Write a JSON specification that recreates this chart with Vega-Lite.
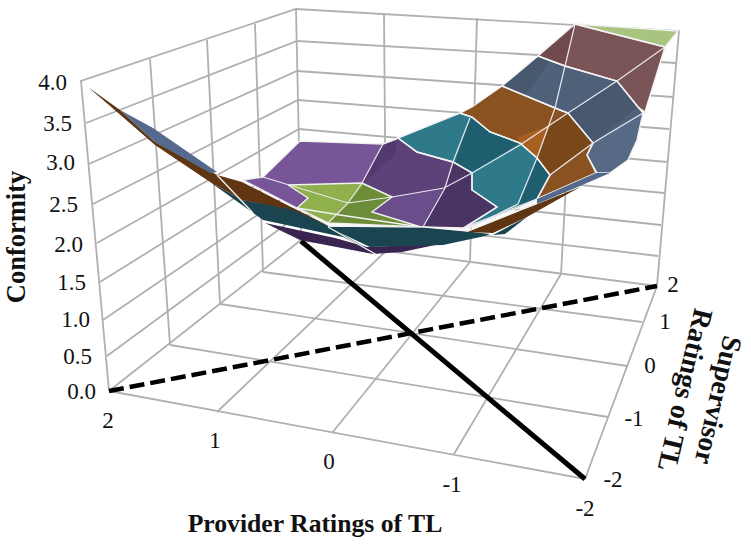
{"$schema":"https://vega.github.io/schema/vega-lite/v6.json","width":751,"height":547,"padding":0,"autosize":{"type":"fit","contains":"padding"},"background":"white","config":{"view":{"stroke":null}},
"datasets":{
"grid":[
{"g":"f1","v":1,"x":109,"y":391},{"g":"f1","v":2,"x":585,"y":479},{"g":"f1","v":3,"x":657,"y":286},{"g":"f1","v":4,"x":301,"y":240},{"g":"f1","v":5,"x":109,"y":391},
{"g":"p1","v":1,"x":217,"y":412},{"g":"p1","v":2,"x":386,"y":251},{"g":"p2","v":1,"x":332,"y":433},{"g":"p2","v":2,"x":470,"y":262},{"g":"p3","v":1,"x":454,"y":454},{"g":"p3","v":2,"x":561,"y":274},
{"g":"s1","v":1,"x":170,"y":345},{"g":"s1","v":2,"x":608,"y":417},{"g":"s2","v":1,"x":220,"y":304},{"g":"s2","v":2,"x":627,"y":366},{"g":"s3","v":1,"x":263,"y":272},{"g":"s3","v":2,"x":642,"y":322},
{"g":"top","v":1,"x":109,"y":391},{"g":"top","v":2,"x":81,"y":81},{"g":"top","v":3,"x":296,"y":9},{"g":"top","v":4,"x":679,"y":31},{"g":"top","v":5,"x":657,"y":286},
{"g":"b0","v":1,"x":296,"y":9},{"g":"b0","v":2,"x":301,"y":240},
{"g":"lv1","v":1,"x":150,"y":59},{"g":"lv1","v":2,"x":170,"y":345},{"g":"lv2","v":1,"x":207,"y":40},{"g":"lv2","v":2,"x":220,"y":304},{"g":"lv3","v":1,"x":255,"y":24},{"g":"lv3","v":2,"x":263,"y":272},
{"g":"rv1","v":1,"x":384,"y":14},{"g":"rv1","v":2,"x":386,"y":251},{"g":"rv2","v":1,"x":477,"y":18},{"g":"rv2","v":2,"x":470,"y":262},{"g":"rv3","v":1,"x":575,"y":24},{"g":"rv3","v":2,"x":561,"y":274},
{"g":"h35","v":1,"x":86,"y":123},{"g":"h35","v":2,"x":297,"y":41},{"g":"h35","v":3,"x":676,"y":63},
{"g":"h30","v":1,"x":89,"y":164},{"g":"h30","v":2,"x":297,"y":71},{"g":"h30","v":3,"x":673,"y":97},
{"g":"h25","v":1,"x":93,"y":204},{"g":"h25","v":2,"x":298,"y":100},{"g":"h25","v":3,"x":669,"y":129},
{"g":"h20","v":1,"x":97,"y":243},{"g":"h20","v":2,"x":299,"y":129},{"g":"h20","v":3,"x":667,"y":162},
{"g":"h15","v":1,"x":100,"y":282},{"g":"h15","v":2,"x":299,"y":158},{"g":"h15","v":3,"x":664,"y":193},
{"g":"h10","v":1,"x":103,"y":320},{"g":"h10","v":2,"x":300,"y":186},{"g":"h10","v":3,"x":661,"y":225},
{"g":"h05","v":1,"x":107,"y":356},{"g":"h05","v":2,"x":300,"y":214},{"g":"h05","v":3,"x":658,"y":256}],
"base":[
{"p":"purple","band":"purple","v":1,"x":263,"y":177},{"p":"purple","band":"purple","v":2,"x":300,"y":141},{"p":"purple","band":"purple","v":3,"x":383,"y":144},{"p":"purple","band":"purple","v":4,"x":398,"y":138},{"p":"purple","band":"purple","v":5,"x":417,"y":152},{"p":"purple","band":"purple","v":6,"x":453,"y":162},{"p":"purple","band":"purple","v":7,"x":472,"y":173},{"p":"purple","band":"purple","v":8,"x":472,"y":190},{"p":"purple","band":"purple","v":9,"x":497,"y":207},{"p":"purple","band":"purple","v":10,"x":463,"y":228},{"p":"purple","band":"purple","v":11,"x":421,"y":227},{"p":"purple","band":"purple","v":12,"x":340,"y":215},{"p":"purple","band":"purple","v":13,"x":297,"y":208},{"p":"purple","band":"purple","v":14,"x":243,"y":180},{"p":"purple","band":"purple","v":15,"x":263,"y":177},
{"p":"green","band":"green","v":1,"x":288,"y":185},{"p":"green","band":"green","v":2,"x":362,"y":183},{"p":"green","band":"green","v":3,"x":392,"y":197},{"p":"green","band":"green","v":4,"x":372,"y":212},{"p":"green","band":"green","v":5,"x":421,"y":227},{"p":"green","band":"green","v":6,"x":328,"y":223},{"p":"green","band":"green","v":7,"x":297,"y":208},{"p":"green","band":"green","v":8,"x":308,"y":198},{"p":"green","band":"green","v":9,"x":288,"y":185},
{"p":"teal","band":"teal","v":1,"x":460,"y":113},{"p":"teal","band":"teal","v":2,"x":472,"y":117},{"p":"teal","band":"teal","v":3,"x":490,"y":132},{"p":"teal","band":"teal","v":4,"x":520,"y":143},{"p":"teal","band":"teal","v":5,"x":537,"y":158},{"p":"teal","band":"teal","v":6,"x":550,"y":175},{"p":"teal","band":"teal","v":7,"x":537,"y":199},{"p":"teal","band":"teal","v":8,"x":518,"y":208},{"p":"teal","band":"teal","v":9,"x":463,"y":229},{"p":"teal","band":"teal","v":10,"x":497,"y":207},{"p":"teal","band":"teal","v":11,"x":472,"y":190},{"p":"teal","band":"teal","v":12,"x":472,"y":173},{"p":"teal","band":"teal","v":13,"x":453,"y":162},{"p":"teal","band":"teal","v":14,"x":417,"y":152},{"p":"teal","band":"teal","v":15,"x":398,"y":138},{"p":"teal","band":"teal","v":16,"x":460,"y":113},
{"p":"orange","band":"orange","v":1,"x":502,"y":86},{"p":"orange","band":"orange","v":2,"x":555,"y":108},{"p":"orange","band":"orange","v":3,"x":568,"y":113},{"p":"orange","band":"orange","v":4,"x":593,"y":143},{"p":"orange","band":"orange","v":5,"x":587,"y":155},{"p":"orange","band":"orange","v":6,"x":596,"y":173},{"p":"orange","band":"orange","v":7,"x":537,"y":199},{"p":"orange","band":"orange","v":8,"x":550,"y":175},{"p":"orange","band":"orange","v":9,"x":537,"y":158},{"p":"orange","band":"orange","v":10,"x":520,"y":143},{"p":"orange","band":"orange","v":11,"x":490,"y":132},{"p":"orange","band":"orange","v":12,"x":472,"y":117},{"p":"orange","band":"orange","v":13,"x":460,"y":113},{"p":"orange","band":"orange","v":14,"x":472,"y":107},{"p":"orange","band":"orange","v":15,"x":502,"y":86},
{"p":"slate","band":"slate","v":1,"x":538,"y":56},{"p":"slate","band":"slate","v":2,"x":565,"y":66},{"p":"slate","band":"slate","v":3,"x":617,"y":81},{"p":"slate","band":"slate","v":4,"x":638,"y":107},{"p":"slate","band":"slate","v":5,"x":643,"y":113},{"p":"slate","band":"slate","v":6,"x":637,"y":140},{"p":"slate","band":"slate","v":7,"x":628,"y":160},{"p":"slate","band":"slate","v":8,"x":610,"y":173},{"p":"slate","band":"slate","v":9,"x":597,"y":173},{"p":"slate","band":"slate","v":10,"x":587,"y":155},{"p":"slate","band":"slate","v":11,"x":593,"y":143},{"p":"slate","band":"slate","v":12,"x":568,"y":113},{"p":"slate","band":"slate","v":13,"x":555,"y":108},{"p":"slate","band":"slate","v":14,"x":502,"y":86},{"p":"slate","band":"slate","v":15,"x":538,"y":56},
{"p":"maroon","band":"maroon","v":1,"x":575,"y":24},{"p":"maroon","band":"maroon","v":2,"x":665,"y":47},{"p":"maroon","band":"maroon","v":3,"x":645,"y":112},{"p":"maroon","band":"maroon","v":4,"x":638,"y":107},{"p":"maroon","band":"maroon","v":5,"x":617,"y":81},{"p":"maroon","band":"maroon","v":6,"x":565,"y":66},{"p":"maroon","band":"maroon","v":7,"x":538,"y":56},{"p":"maroon","band":"maroon","v":8,"x":575,"y":24},
{"p":"topgreen","band":"lightgreen","v":1,"x":575,"y":24},{"p":"topgreen","band":"lightgreen","v":2,"x":678,"y":31},{"p":"topgreen","band":"lightgreen","v":3,"x":665,"y":47},{"p":"topgreen","band":"lightgreen","v":4,"x":575,"y":24}],
"shade":[
{"p":"a1","band":"purplelight","v":1,"x":300,"y":141},{"p":"a1","band":"purplelight","v":2,"x":383,"y":144},{"p":"a1","band":"purplelight","v":3,"x":362,"y":183},{"p":"a1","band":"purplelight","v":4,"x":288,"y":185},{"p":"a1","band":"purplelight","v":5,"x":263,"y":177},
{"p":"a2","band":"purplelight","v":1,"x":243,"y":180},{"p":"a2","band":"purplelight","v":2,"x":263,"y":177},{"p":"a2","band":"purplelight","v":3,"x":288,"y":185},{"p":"a2","band":"purplelight","v":4,"x":308,"y":198},{"p":"a2","band":"purplelight","v":5,"x":297,"y":208},
{"p":"a3","band":"purpledark","v":1,"x":453,"y":162},{"p":"a3","band":"purpledark","v":2,"x":472,"y":173},{"p":"a3","band":"purpledark","v":3,"x":472,"y":190},{"p":"a3","band":"purpledark","v":4,"x":497,"y":207},{"p":"a3","band":"purpledark","v":5,"x":463,"y":228},{"p":"a3","band":"purpledark","v":6,"x":423,"y":227},{"p":"a3","band":"purpledark","v":7,"x":445,"y":188},
{"p":"a4","band":"purplemid","v":1,"x":373,"y":212},{"p":"a4","band":"purplemid","v":2,"x":392,"y":197},{"p":"a4","band":"purplemid","v":3,"x":443,"y":188},{"p":"a4","band":"purplemid","v":4,"x":423,"y":227},
{"p":"a5","band":"purpledim","v":1,"x":363,"y":183},{"p":"a5","band":"purpledim","v":2,"x":383,"y":144},{"p":"a5","band":"purpledim","v":3,"x":397,"y":139},{"p":"a5","band":"purpledim","v":4,"x":395,"y":155},{"p":"a5","band":"purpledim","v":5,"x":378,"y":170},
{"p":"a6","band":"greendark","v":1,"x":363,"y":185},{"p":"a6","band":"greendark","v":2,"x":392,"y":197},{"p":"a6","band":"greendark","v":3,"x":372,"y":212},{"p":"a6","band":"greendark","v":4,"x":420,"y":227},{"p":"a6","band":"greendark","v":5,"x":328,"y":223},{"p":"a6","band":"greendark","v":6,"x":348,"y":203},
{"p":"a7","band":"tealdark","v":1,"x":470,"y":118},{"p":"a7","band":"tealdark","v":2,"x":490,"y":132},{"p":"a7","band":"tealdark","v":3,"x":520,"y":143},{"p":"a7","band":"tealdark","v":4,"x":472,"y":172},{"p":"a7","band":"tealdark","v":5,"x":455,"y":162},
{"p":"a8","band":"tealdark","v":1,"x":537,"y":158},{"p":"a8","band":"tealdark","v":2,"x":550,"y":175},{"p":"a8","band":"tealdark","v":3,"x":537,"y":199},{"p":"a8","band":"tealdark","v":4,"x":518,"y":205},
{"p":"a9","band":"orangedark","v":1,"x":568,"y":113},{"p":"a9","band":"orangedark","v":2,"x":593,"y":143},{"p":"a9","band":"orangedark","v":3,"x":550,"y":175},{"p":"a9","band":"orangedark","v":4,"x":537,"y":158},{"p":"a9","band":"orangedark","v":5,"x":550,"y":125},
{"p":"a10","band":"orangelight","v":1,"x":520,"y":143},{"p":"a10","band":"orangelight","v":2,"x":537,"y":157},{"p":"a10","band":"orangelight","v":3,"x":550,"y":125},{"p":"a10","band":"orangelight","v":4,"x":518,"y":137},
{"p":"a11","band":"slatedark","v":1,"x":538,"y":56},{"p":"a11","band":"slatedark","v":2,"x":550,"y":60},{"p":"a11","band":"slatedark","v":3,"x":525,"y":96},{"p":"a11","band":"slatedark","v":4,"x":502,"y":86},
{"p":"a12","band":"slatedark","v":1,"x":617,"y":81},{"p":"a12","band":"slatedark","v":2,"x":638,"y":107},{"p":"a12","band":"slatedark","v":3,"x":593,"y":143},{"p":"a12","band":"slatedark","v":4,"x":568,"y":113},
{"p":"a13","band":"slatelight","v":1,"x":643,"y":113},{"p":"a13","band":"slatelight","v":2,"x":637,"y":140},{"p":"a13","band":"slatelight","v":3,"x":628,"y":160},{"p":"a13","band":"slatelight","v":4,"x":610,"y":173},{"p":"a13","band":"slatelight","v":5,"x":597,"y":173},{"p":"a13","band":"slatelight","v":6,"x":587,"y":155},{"p":"a13","band":"slatelight","v":7,"x":593,"y":143},
{"p":"a14","band":"maroondark","v":1,"x":575,"y":24},{"p":"a14","band":"maroondark","v":2,"x":565,"y":66},{"p":"a14","band":"maroondark","v":3,"x":538,"y":56}],
"mesh":[
{"m":"A","v":1,"x":575,"y":24},{"m":"A","v":2,"x":565,"y":66},{"m":"A","v":3,"x":555,"y":108},{"m":"A","v":4,"x":537,"y":158},{"m":"A","v":5,"x":518,"y":204},{"m":"A","v":6,"x":470,"y":228},
{"m":"B","v":1,"x":665,"y":47},{"m":"B","v":2,"x":617,"y":81},{"m":"B","v":3,"x":568,"y":113},{"m":"B","v":4,"x":520,"y":145},{"m":"B","v":5,"x":472,"y":173},{"m":"B","v":6,"x":444,"y":188},{"m":"B","v":7,"x":392,"y":197},{"m":"B","v":8,"x":348,"y":203},{"m":"B","v":9,"x":328,"y":223},
{"m":"C","v":1,"x":643,"y":113},{"m":"C","v":2,"x":593,"y":143},{"m":"C","v":3,"x":550,"y":175},{"m":"C","v":4,"x":537,"y":199},{"m":"C","v":5,"x":463,"y":228},
{"m":"D","v":1,"x":348,"y":203},{"m":"D","v":2,"x":362,"y":183},{"m":"D","v":3,"x":383,"y":144},{"m":"D","v":4,"x":397,"y":139},
{"m":"E","v":1,"x":423,"y":227},{"m":"E","v":2,"x":445,"y":188},{"m":"E","v":3,"x":453,"y":162},{"m":"E","v":4,"x":470,"y":118},
{"m":"F","v":1,"x":263,"y":177},{"m":"F","v":2,"x":348,"y":203}],
"fold":[
{"p":"b1","band":"purplebottom","v":1,"x":265,"y":223},{"p":"b1","band":"purplebottom","v":2,"x":300,"y":240},{"p":"b1","band":"purplebottom","v":3,"x":373,"y":254},{"p":"b1","band":"purplebottom","v":4,"x":402,"y":252},{"p":"b1","band":"purplebottom","v":5,"x":440,"y":244},{"p":"b1","band":"purplebottom","v":6,"x":367,"y":247},{"p":"b1","band":"purplebottom","v":7,"x":335,"y":238},{"p":"b1","band":"purplebottom","v":8,"x":265,"y":223},
{"p":"b2","band":"tealfold","v":1,"x":328,"y":227},{"p":"b2","band":"tealfold","v":2,"x":422,"y":227},{"p":"b2","band":"tealfold","v":3,"x":463,"y":231},{"p":"b2","band":"tealfold","v":4,"x":490,"y":234},{"p":"b2","band":"tealfold","v":5,"x":485,"y":236},{"p":"b2","band":"tealfold","v":6,"x":443,"y":245},{"p":"b2","band":"tealfold","v":7,"x":370,"y":247},{"p":"b2","band":"tealfold","v":8,"x":328,"y":227},
{"p":"b3","band":"tealfold","v":1,"x":210,"y":182},{"p":"b3","band":"tealfold","v":2,"x":242,"y":200},{"p":"b3","band":"tealfold","v":3,"x":293,"y":208},{"p":"b3","band":"tealfold","v":4,"x":330,"y":227},{"p":"b3","band":"tealfold","v":5,"x":377,"y":254},{"p":"b3","band":"tealfold","v":6,"x":343,"y":237},{"p":"b3","band":"tealfold","v":7,"x":263,"y":220},{"p":"b3","band":"tealfold","v":8,"x":210,"y":182},
{"p":"b4","band":"brown","v":1,"x":88,"y":87},{"p":"b4","band":"brown","v":2,"x":120,"y":110},{"p":"b4","band":"brown","v":3,"x":155,"y":142},{"p":"b4","band":"brown","v":4,"x":217,"y":175},{"p":"b4","band":"brown","v":5,"x":242,"y":182},{"p":"b4","band":"brown","v":6,"x":293,"y":208},{"p":"b4","band":"brown","v":7,"x":333,"y":228},{"p":"b4","band":"brown","v":8,"x":293,"y":210},{"p":"b4","band":"brown","v":9,"x":242,"y":200},{"p":"b4","band":"brown","v":10,"x":210,"y":182},{"p":"b4","band":"brown","v":11,"x":155,"y":145},{"p":"b4","band":"brown","v":12,"x":117,"y":112},{"p":"b4","band":"brown","v":13,"x":88,"y":87},
{"p":"b5","band":"slatefold","v":1,"x":120,"y":110},{"p":"b5","band":"slatefold","v":2,"x":153,"y":128},{"p":"b5","band":"slatefold","v":3,"x":217,"y":172},{"p":"b5","band":"slatefold","v":4,"x":210,"y":173},{"p":"b5","band":"slatefold","v":5,"x":155,"y":142},{"p":"b5","band":"slatefold","v":6,"x":120,"y":110},
{"p":"b6","band":"tealfold","v":1,"x":493,"y":235},{"p":"b6","band":"tealfold","v":2,"x":527,"y":217},{"p":"b6","band":"tealfold","v":3,"x":505,"y":234},{"p":"b6","band":"tealfold","v":4,"x":493,"y":235},
{"p":"b7","band":"brown","v":1,"x":467,"y":232},{"p":"b7","band":"brown","v":2,"x":580,"y":187},{"p":"b7","band":"brown","v":3,"x":527,"y":217},{"p":"b7","band":"brown","v":4,"x":493,"y":233},{"p":"b7","band":"brown","v":5,"x":467,"y":232},
{"p":"b8","band":"slatefold","v":1,"x":596,"y":173},{"p":"b8","band":"slatefold","v":2,"x":610,"y":173},{"p":"b8","band":"slatefold","v":3,"x":580,"y":186},{"p":"b8","band":"slatefold","v":4,"x":537,"y":204},{"p":"b8","band":"slatefold","v":5,"x":537,"y":199},{"p":"b8","band":"slatefold","v":6,"x":596,"y":173}],
"foldlines":[
{"m":"L1","v":1,"x":217,"y":175},{"m":"L1","v":2,"x":253,"y":213},{"m":"L2","v":1,"x":328,"y":227},{"m":"L2","v":2,"x":377,"y":255},{"m":"L3","v":1,"x":328,"y":226},{"m":"L3","v":2,"x":425,"y":227},{"m":"L3","v":3,"x":468,"y":231},{"m":"L3","v":4,"x":537,"y":203}],
"ticks":[
{"t":"4.0","x":67,"y":83},{"t":"3.5","x":72,"y":124},{"t":"3.0","x":75,"y":163},{"t":"2.5","x":78,"y":205},{"t":"2.0","x":83,"y":245},{"t":"1.5","x":86,"y":283},{"t":"1.0","x":90,"y":320},{"t":"0.5","x":92,"y":357},{"t":"0.0","x":96,"y":392}],
"ticks2":[
{"t":"2","x":108,"y":421},{"t":"1","x":215,"y":441},{"t":"0","x":329,"y":462},{"t":"-1","x":452,"y":485},{"t":"-2","x":585,"y":509},
{"t":"2","x":673,"y":285},{"t":"1","x":665,"y":322},{"t":"0","x":650,"y":366},{"t":"-1","x":634,"y":419},{"t":"-2","x":613,"y":480}]
},
"encoding":{"x":{"field":"x","type":"quantitative","scale":{"domain":[0,751]},"axis":null},"y":{"field":"y","type":"quantitative","scale":{"domain":[547,0]},"axis":null}},
"resolve":{"scale":{"fill":"shared"}},
"layer":[
{"data":{"name":"grid"},"mark":{"type":"line","stroke":"#b0b0b0","strokeWidth":1.8},"encoding":{"detail":{"field":"g"},"order":{"field":"v","type":"quantitative"}}},
{"data":{"values":[{"g":"dash","v":1,"x":109,"y":391},{"g":"dash","v":2,"x":657,"y":286}]},"mark":{"type":"line","stroke":"black","strokeWidth":4.5,"strokeDash":[15,6]},"encoding":{"order":{"field":"v","type":"quantitative"}}},
{"data":{"values":[{"g":"solid","v":1,"x":301,"y":241},{"g":"solid","v":2,"x":585,"y":479}]},"mark":{"type":"line","stroke":"black","strokeWidth":5},"encoding":{"order":{"field":"v","type":"quantitative"}}},
{"data":{"name":"base"},"mark":{"type":"line","strokeWidth":0},"encoding":{"detail":{"field":"p"},"order":{"field":"v","type":"quantitative"},"fill":{"field":"band","type":"nominal","legend":null,"scale":{"domain":["purple","purplelight","purpledark","purplemid","purpledim","purplebottom","green","greendark","lightgreen","teal","tealdark","tealfold","orange","orangedark","orangelight","brown","slate","slatedark","slatelight","slatefold","maroon","maroondark"],"range":["#5c4279","#775598","#4a3464","#6a4e8c","#523a6e","#3a2550","#8fb04c","#6d8c37","#a9c47f","#2f7a8a","#1f5e6e","#1a4550","#8a5220","#7a4718","#a85f20","#5f3512","#4f6079","#48586f","#566a85","#54698c","#7a5456","#70494c"]}}}},
{"data":{"name":"shade"},"mark":{"type":"line","strokeWidth":0},"encoding":{"detail":{"field":"p"},"order":{"field":"v","type":"quantitative"},"fill":{"field":"band","type":"nominal","legend":null}}},
{"data":{"name":"base"},"mark":{"type":"line","stroke":"#f2f2f2","strokeWidth":1.4},"encoding":{"detail":{"field":"p"},"order":{"field":"v","type":"quantitative"}}},
{"data":{"name":"mesh"},"mark":{"type":"line","stroke":"#e8e8ee","strokeWidth":1.2},"encoding":{"detail":{"field":"m"},"order":{"field":"v","type":"quantitative"}}},
{"data":{"name":"fold"},"mark":{"type":"line","strokeWidth":0},"encoding":{"detail":{"field":"p"},"order":{"field":"v","type":"quantitative"},"fill":{"field":"band","type":"nominal","legend":null}}},
{"data":{"name":"foldlines"},"mark":{"type":"line","stroke":"#f0f0f0","strokeWidth":1.4},"encoding":{"detail":{"field":"m"},"order":{"field":"v","type":"quantitative"}}},
{"data":{"name":"ticks"},"mark":{"type":"text","font":"Liberation Serif","fontSize":23,"align":"right","baseline":"middle","fill":"#111"},"encoding":{"text":{"field":"t"}}},
{"data":{"name":"ticks2"},"mark":{"type":"text","font":"Liberation Serif","fontSize":23,"align":"center","baseline":"middle","fill":"#111"},"encoding":{"text":{"field":"t"}}},
{"data":{"values":[{"t":"Provider Ratings of TL","x":315,"y":524}]},"mark":{"type":"text","font":"Liberation Serif","fontWeight":"bold","fontSize":25.7,"align":"center","baseline":"middle","fill":"#111"},"encoding":{"text":{"field":"t"}}},
{"data":{"values":[{"t":"Conformity","x":17,"y":237}]},"mark":{"type":"text","font":"Liberation Serif","fontWeight":"bold","fontSize":26.5,"align":"center","baseline":"middle","angle":270,"fill":"#111"},"encoding":{"text":{"field":"t"}}},
{"data":{"values":[{"t":"Supervisor","x":717,"y":400},{"t":"Ratings of TL","x":684,"y":390}]},"mark":{"type":"text","font":"Liberation Serif","fontWeight":"bold","fontSize":28,"align":"center","baseline":"middle","angle":103,"fill":"#111"},"encoding":{"text":{"field":"t"}}}
]}
